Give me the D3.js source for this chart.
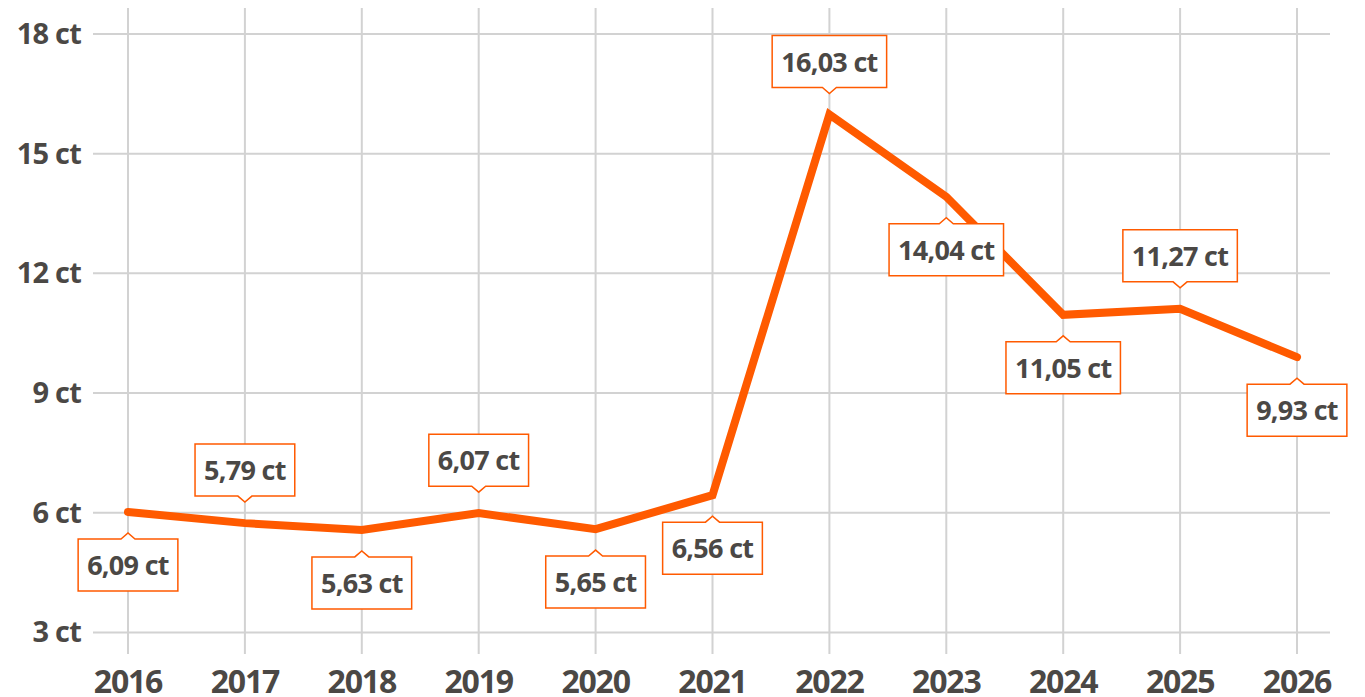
<!DOCTYPE html>
<html>
<head>
<meta charset="utf-8">
<script src="https://cdn.jsdelivr.net/npm/d3@7"></script>
<style>
  html, body { margin: 0; padding: 0; background: #fff; }
  svg { display: block; }
  text { font-family: "Open Sans", "Noto Sans", sans-serif; font-weight: 700; fill: #4b4845; }
</style>
</head>
<body>
<div id="chart"></div>
<script>
// data
const years = ["2016", "2017", "2018", "2019", "2020", "2021", "2022", "2023", "2024", "2025", "2026"];
const prices = [6.02, 5.74, 5.57, 5.99, 5.59, 6.44, 15.98, 13.92, 10.96, 11.11, 9.90];
const priceLabels = ["6,09 ct", "5,79 ct", "5,63 ct", "6,07 ct", "5,65 ct", "6,56 ct", "16,03 ct", "14,04 ct", "11,05 ct", "11,27 ct", "9,93 ct"];
const labelSide = ["below", "above", "below", "above", "below", "below", "above", "below", "below", "above", "below"];
const yTicks = [3, 6, 9, 12, 15, 18];

const width = 1365, height = 697;
const orange = "#ff5a00";

const svg = d3.select("#chart")
    .append("svg")
    .attr("width", width)
    .attr("height", height);

// scales
const x = d3.scalePoint()
    .domain(years)
    .range([128, 1297]);

const y = d3.scaleLinear()
    .domain([2.46, 18.65])
    .range([654, 8]);

// grid
svg.append("g")
    .selectAll("line")
    .data(years)
    .enter().append("line")
    .attr("x1", d => x(d)).attr("x2", d => x(d))
    .attr("y1", y(18.65)).attr("y2", y(2.46))
    .attr("stroke", "#d2d2d2")
    .attr("stroke-width", 2);

svg.append("g")
    .selectAll("line")
    .data(yTicks)
    .enter().append("line")
    .attr("x1", 93).attr("x2", 1330)
    .attr("y1", d => y(d)).attr("y2", d => y(d))
    .attr("stroke", "#d2d2d2")
    .attr("stroke-width", 2);

// y axis labels
svg.append("g")
    .selectAll("text")
    .data(yTicks)
    .enter().append("text")
    .attr("x", 81)
    .attr("y", d => y(d) + 10)
    .attr("text-anchor", "end")
    .attr("font-size", 29)
    .attr("letter-spacing", -0.8)
    .text(d => d + " ct");

// x axis labels
svg.append("g")
    .selectAll("text")
    .data(years)
    .enter().append("text")
    .attr("x", d => x(d))
    .attr("y", 693)
    .attr("text-anchor", "middle")
    .attr("font-size", 32)
    .attr("letter-spacing", -1.2)
    .text(d => d);

// line
const line = d3.line()
    .x((d, i) => x(years[i]))
    .y(d => y(d));

svg.append("path")
    .datum(prices)
    .attr("fill", "none")
    .attr("stroke", orange)
    .attr("stroke-width", 8)
    .attr("stroke-linejoin", "miter")
    .attr("stroke-linecap", "round")
    .attr("d", line);

// value labels (box with small pointer)
const boxH = 52, gap = 21, notchH = 6, notchW = 7, padX = 9;

const labels = svg.append("g")
    .selectAll("g")
    .data(prices)
    .enter().append("g");

labels.each(function(d, i) {
    const g = d3.select(this);
    const cx = x(years[i]);
    const py = y(d);
    const above = labelSide[i] === "above";
    const tip = above ? py - gap : py + gap;
    const edge = above ? tip - notchH : tip + notchH;
    const far = above ? edge - boxH : edge + boxH;

    const txt = g.append("text")
        .attr("x", cx)
        .attr("y", (edge + far) / 2 + 10)
        .attr("text-anchor", "middle")
        .attr("font-size", 27)
        .attr("letter-spacing", -0.7)
        .text(priceLabels[i]);
    const w = txt.node().getComputedTextLength() + padX * 2;
    const l = cx - w / 2, r = cx + w / 2;

    const path = d3.path();
    path.moveTo(l, edge);
    path.lineTo(cx - notchW, edge);
    path.lineTo(cx, tip);
    path.lineTo(cx + notchW, edge);
    path.lineTo(r, edge);
    path.lineTo(r, far);
    path.lineTo(l, far);
    path.closePath();

    g.insert("path", "text")
        .attr("d", path.toString())
        .attr("fill", "#fff")
        .attr("stroke", orange)
        .attr("stroke-width", 1.5);
});
</script>
</body>
</html>
